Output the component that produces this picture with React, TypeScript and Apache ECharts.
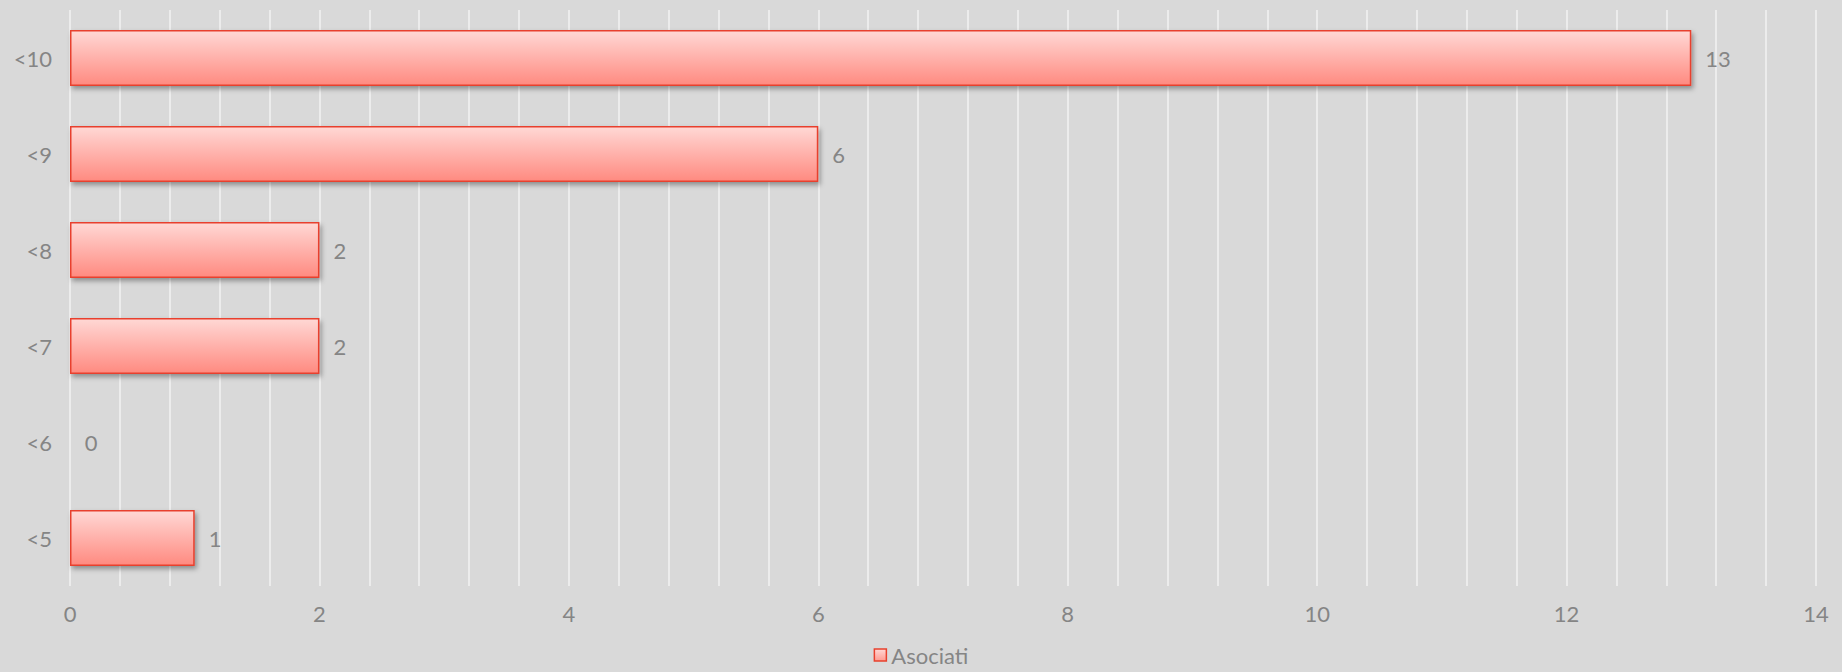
import React, { useEffect, useRef } from "react";
import * as echarts from "echarts";

const categories = ["<5", "<6", "<7", "<8", "<9", "<10"];
const values = [1, 0, 2, 2, 6, 13];
const seriesName = "Asociati";
const xMin = 0;
const xMax = 14;
const xInterval = 2;

export default function App() {
  const ref = useRef<HTMLDivElement>(null);
  useEffect(() => {
    if (!ref.current) return;
    const chart = echarts.init(ref.current, undefined, { renderer: "svg" });
    const font = "Lato, 'Open Sans', sans-serif";
    const textColor = "#858585";
    const barFill = new echarts.graphic.LinearGradient(0, 0, 0, 1, [
      { offset: 0, color: "#FFD8D5" },
      { offset: 1, color: "#FF8A80" },
    ]);
    const legendFill = new echarts.graphic.LinearGradient(0, 0, 0, 1, [
      { offset: 0, color: "#FFD8D5" },
      { offset: 1, color: "#FF9A90" },
    ]);
    chart.setOption({
      animation: false,
      backgroundColor: "#D9D9D9",
      textStyle: { fontFamily: font },
      grid: { left: 70, right: 26, top: 10, bottom: 86, containLabel: false },
      legend: {
        bottom: 1,
        left: "center",
        icon: "rect",
        itemWidth: 12,
        itemHeight: 12,
        itemGap: 10,
        textStyle: { color: textColor, fontSize: 22, fontFamily: font },
        data: [
          {
            name: seriesName,
            itemStyle: { color: legendFill, borderColor: "#E8412E", borderWidth: 1.5 },
          },
        ],
      },
      xAxis: {
        type: "value",
        min: xMin,
        max: xMax,
        interval: xInterval,
        axisLine: { show: false },
        axisTick: { show: false },
        axisLabel: { color: textColor, fontSize: 22, margin: 16, fontFamily: font },
        splitLine: { show: true, lineStyle: { color: "#F2F2F2", width: 1.5 } },
        minorTick: { show: false, splitNumber: 5 },
        minorSplitLine: { show: true, lineStyle: { color: "#F2F2F2", width: 1.5 } },
      },
      yAxis: {
        type: "category",
        data: categories,
        axisLine: { show: false },
        axisTick: { show: false },
        axisLabel: { color: textColor, fontSize: 22, margin: 18, fontFamily: font },
        splitLine: { show: false },
      },
      series: [
        {
          name: seriesName,
          type: "bar",
          data: values,
          barWidth: 56,
          itemStyle: {
            color: barFill,
            borderColor: "#E8412E",
            borderWidth: 1.5,
            shadowColor: "rgba(0,0,0,0.35)",
            shadowBlur: 5,
            shadowOffsetX: 2,
            shadowOffsetY: 3,
          },
          label: {
            show: true,
            position: "right",
            distance: 14,
            color: textColor,
            fontSize: 22,
            fontFamily: font,
          },
        },
      ],
    });
    return () => chart.dispose();
  }, []);
  return (
    <div
      ref={ref}
      style={{ position: "fixed", left: 0, top: 0, width: 1842, height: 672 }}
    />
  );
}
